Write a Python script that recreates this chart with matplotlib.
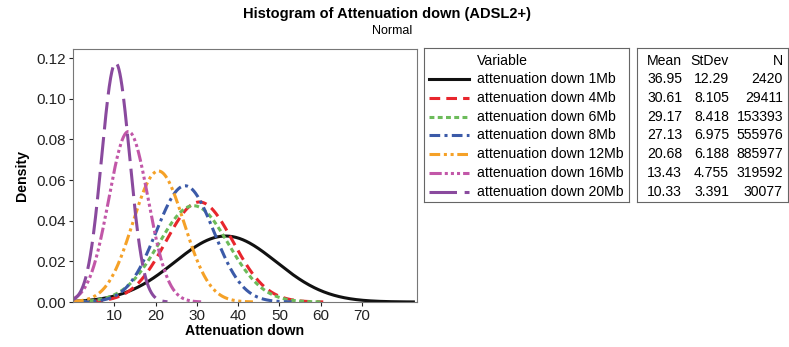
import numpy as np
import matplotlib
matplotlib.use("Agg")
import matplotlib.pyplot as plt

plt.rcParams['font.family'] = ['Liberation Sans', 'DejaVu Sans']

# fitted normal parameters shown in the stats table
variables = ["attenuation down 1Mb", "attenuation down 4Mb", "attenuation down 6Mb",
             "attenuation down 8Mb", "attenuation down 12Mb", "attenuation down 16Mb",
             "attenuation down 20Mb"]
means = [36.95, 30.61, 29.17, 27.13, 20.68, 13.43, 10.33]
stdevs = [12.29, 8.105, 8.418, 6.975, 6.188, 4.755, 3.391]
counts = [2420, 29411, 153393, 555976, 885977, 319592, 30077]
mean_lbl = ["36.95", "30.61", "29.17", "27.13", "20.68", "13.43", "10.33"]
sd_lbl = ["12.29", "8.105", "8.418", "6.975", "6.188", "4.755", "3.391"]

colors = ["#111111", "#e8262d", "#6cbb5a", "#3b5aa8", "#f5a127", "#c257a8", "#8a4a9e"]
styles = ["-", (0, (3.5, 2)), (0, (1.6, 1.1)), (0, (3.5, 1.4, 1, 1.4)),
          (0, (3.5, 1.2, 1, 1.2, 1, 1.2)), (0, (4, 1, 1, 1, 1, 1, 1, 1)),
          (0, (9, 2.5))]

W, H = 789, 347
fig = plt.figure(figsize=(W / 100, H / 100), dpi=100)

def fx(px):
    return px / W

def fy(py):
    return 1 - py / H

ax = fig.add_axes([fx(73), fy(302), fx(417) - fx(73), fy(49) - fy(302)])
for m, s, c, ls in zip(means, stdevs, colors, styles):
    x = np.linspace(max(0, m - 3.7 * s), m + 3.7 * s, 400)
    y = np.exp(-0.5 * ((x - m) / s) ** 2) / (s * np.sqrt(2 * np.pi))
    ax.plot(x, y, color=c, linestyle=ls, lw=2.2)
ax.set_xlim(0, 83.3)
ax.set_ylim(0, 0.1245)
ax.set_xticks([10, 20, 30, 40, 50, 60, 70])
ax.set_yticks([0, 0.02, 0.04, 0.06, 0.08, 0.10, 0.12])
ax.set_yticklabels(["0.00", "0.02", "0.04", "0.06", "0.08", "0.10", "0.12"])
ax.tick_params(labelsize=11, length=3, width=0.8, colors="#222222", pad=2)
for sp in ax.spines.values():
    sp.set_color("#777777")
ax.set_xlabel("Attenuation down", fontsize=10.2, fontweight="bold", labelpad=1)
ax.set_ylabel("Density", fontsize=10.2, fontweight="bold", labelpad=5)

fig.text(fx(387), fy(14), "Histogram of Attenuation down (ADSL2+)", ha="center",
         va="center", fontsize=10.5, fontweight="bold")
fig.text(fx(392), fy(31), "Normal", ha="center", va="center", fontsize=9)

# legend box
leg = fig.add_axes([fx(424), fy(202), fx(629) - fx(424), fy(48) - fy(202)])
leg.set_xlim(424, 629)
leg.set_ylim(202, 48)
leg.set_xticks([])
leg.set_yticks([])
for sp in leg.spines.values():
    sp.set_color("#666666")
leg.text(477, 61, "Variable", va="center", fontsize=10.1)

tab = fig.add_axes([fx(637), fy(202), fx(788) - fx(637), fy(48) - fy(202)])
tab.set_xlim(637, 788)
tab.set_ylim(202, 48)
tab.set_xticks([])
tab.set_yticks([])
for sp in tab.spines.values():
    sp.set_color("#666666")
tab.text(682, 61, "Mean", ha="right", va="center", fontsize=10.1)
tab.text(729, 61, "StDev", ha="right", va="center", fontsize=10.1)
tab.text(783, 61, "N", ha="right", va="center", fontsize=10.1)

for i, name in enumerate(variables):
    yy = 79 + i * 18.8
    leg.plot([429, 469], [yy, yy], color=colors[i], linestyle=styles[i], lw=2.2)
    leg.text(477, yy, name, va="center", fontsize=10.1)
    tab.text(682, yy, mean_lbl[i], ha="right", va="center", fontsize=10.1)
    tab.text(729, yy, sd_lbl[i], ha="right", va="center", fontsize=10.1)
    tab.text(783, yy, str(counts[i]), ha="right", va="center", fontsize=10.1)

fig.savefig("out.png", dpi=100)
